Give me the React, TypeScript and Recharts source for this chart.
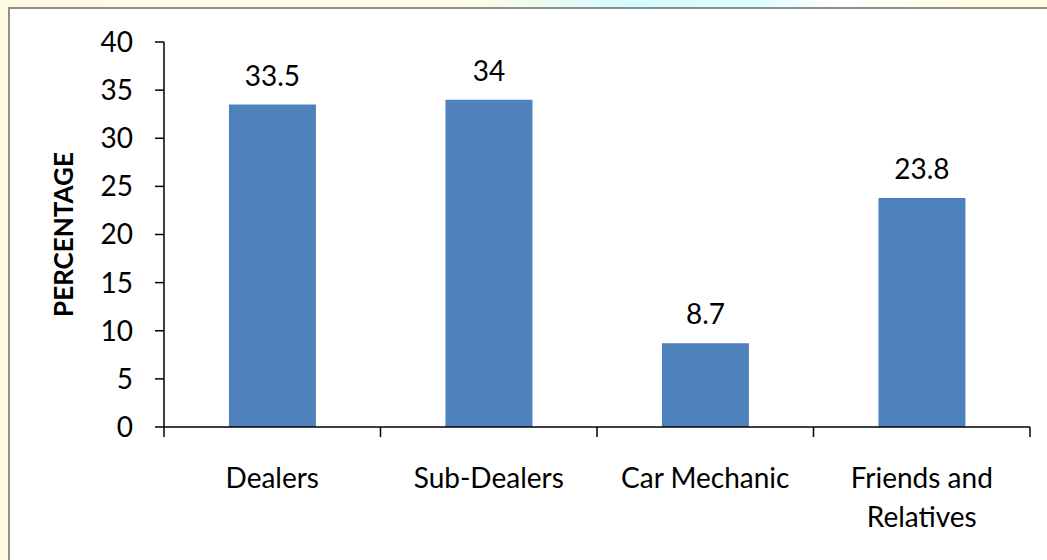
import { Bar, BarChart, LabelList, XAxis, YAxis } from "recharts";

const categories = ["Dealers", "Sub-Dealers", "Car Mechanic", "Friends and Relatives"];
const percentages = [33.5, 34, 8.7, 23.8];
const yTicks = [0, 5, 10, 15, 20, 25, 30, 35, 40];

const data = categories.map((name, i) => ({ name, value: percentages[i] }));

const FONT = "Lato, 'Open Sans', sans-serif";

// split long category names over two lines, like the original
function wrap(text: string, max = 13): string[] {
  const words = text.split(" ");
  const lines: string[] = [];
  let cur = "";
  for (const w of words) {
    const next = cur ? cur + " " + w : w;
    if (next.length > max && cur) {
      lines.push(cur);
      cur = w;
    } else {
      cur = next;
    }
  }
  if (cur) lines.push(cur);
  return lines;
}

// category label at band centre, tick marks on band edges
const XTick = (props: any) => {
  const { x, y, payload, index, visibleTicksCount } = props;
  const half = payload?.offset ?? 108.25;
  const lines = wrap(String(payload.value));
  const last = index === visibleTicksCount - 1;
  return (
    <g>
      <line x1={x - half} x2={x - half} y1={y} y2={y + 10} stroke="#000" strokeWidth={1.5} />
      {last && <line x1={x + half} x2={x + half} y1={y} y2={y + 10} stroke="#000" strokeWidth={1.5} />}
      <text x={x} y={y + 61} textAnchor="middle" fontFamily={FONT} fontSize={28} fill="#000">
        {lines.map((l, i) => (
          <tspan key={i} x={x} dy={i === 0 ? 0 : 39}>
            {l}
          </tspan>
        ))}
      </text>
    </g>
  );
};

export default function App() {
  return (
    <div
      style={{
        position: "absolute",
        left: 0,
        top: 0,
        width: 1047,
        height: 560,
        overflow: "hidden",
        background:
          "linear-gradient(90deg, #fffbe2 0%, #fffce6 45%, #d2fbff 60%, #dcfcff 72%, #ffffff 80%, #fffde0 92%)",
      }}
    >
      <div
        style={{
          position: "absolute",
          left: 8,
          top: 7,
          right: -4,
          bottom: -4,
          background: "#fff",
          borderLeft: "2px solid #8e8e8e",
          borderTop: "2px solid #8e8e8e",
        }}
      />
      <div style={{ position: "absolute", left: 0, top: 0 }}>
        <BarChart
          width={1047}
          height={560}
          data={data}
          margin={{ top: 42, right: 17, bottom: 0, left: 0 }}
          barCategoryGap="30%"
        >
          <XAxis
            dataKey="name"
            height={133}
            interval={0}
            axisLine={{ stroke: "#000", strokeWidth: 1.5 }}
            tickLine={false}
            tickSize={0}
            tickMargin={0}
            tick={<XTick />}
          />
          <YAxis
            width={164}
            domain={[0, 40]}
            ticks={yTicks}
            interval={0}
            axisLine={{ stroke: "#000", strokeWidth: 1.5 }}
            tickLine={{ stroke: "#000", strokeWidth: 1.5 }}
            tickSize={9}
            tickMargin={22}
            tick={{ fill: "#000", fontSize: 28, fontFamily: FONT }}
            label={{
              value: "PERCENTAGE",
              angle: -90,
              position: "center",
              dx: -18,
              style: { fontFamily: FONT, fontSize: 26, fontWeight: 700, fill: "#000" },
            }}
          />
          <Bar dataKey="value" fill="#4F81BD" isAnimationActive={false}>
            <LabelList
              dataKey="value"
              position="top"
              offset={19}
              style={{ fontFamily: FONT, fontSize: 28, fill: "#000" }}
            />
          </Bar>
        </BarChart>
      </div>
    </div>
  );
}
